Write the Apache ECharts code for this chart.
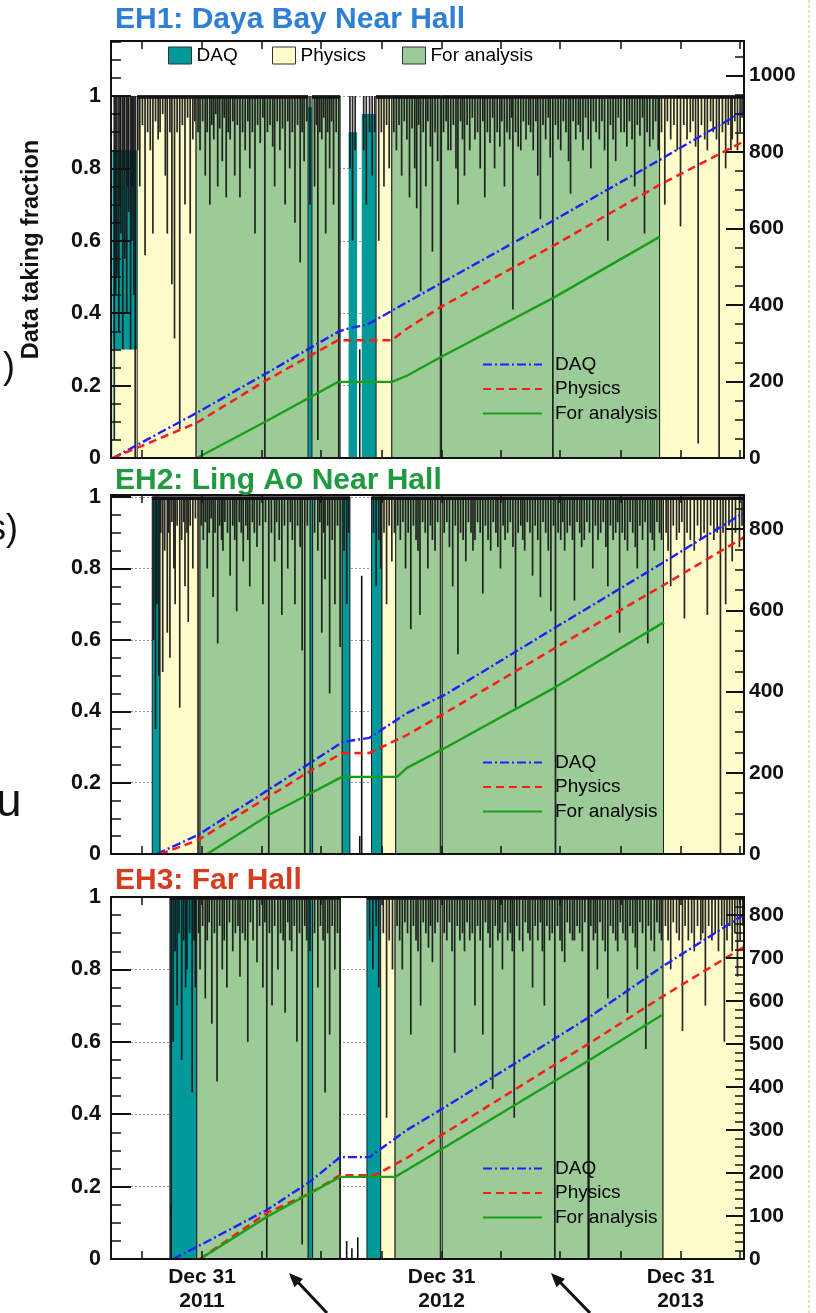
<!DOCTYPE html>
<html><head><meta charset="utf-8">
<script src="https://cdn.jsdelivr.net/npm/echarts@6/dist/echarts.min.js"></script>
<style>html,body{margin:0;padding:0;background:#fff}#c{width:816px;height:1313px}</style>
</head><body><div id="c"></div><script>
// x values: days relative to 2011-12-31
const quarterTicks = [-92, 0, 91, 182, 274, 366, 456, 547, 639, 731, 821];
const yearTickDays = [0, 366, 731];
const yearTickLabels = ['Dec 31\n2011', 'Dec 31\n2012', 'Dec 31\n2013'];
const panelTitles = ['EH1: Daya Bay Near Hall', 'EH2: Ling Ao Near Hall', 'EH3: Far Hall'];
const legendNames = ['DAQ', 'Physics', 'For analysis'];

// fill blocks: [startDay, endDay, fraction]
const eh1DaqBlocks = [[-137,-99,0.85],[162,168,0.97],[224,237,0.9],[244,266,0.95]];
const eh1PhysBlocks = [[-137,-99,0.3],[-99,-9,1],[266,290,1],[364,366,1],[699,828,1]];
const eh1AnaBlocks = [[-9,162,1],[168,211,1],[290,364,1],[366,699,1]];
const eh2DaqBlocks = [[-76,-64,1],[165,169,1],[214,226,1],[259,275,1]];
const eh2PhysBlocks = [[-64,-3,1],[275,296,1],[364,367,1],[705,828,1]];
const eh2AnaBlocks = [[-3,165,1],[169,214,1],[296,364,1],[367,705,1]];
const eh3DaqBlocks = [[-49,-8,1],[162,169,1],[252,273,1]];
const eh3PhysBlocks = [[273,295,1],[364,367,1],[704,828,1]];
const eh3AnaBlocks = [[-8,162,1],[169,211,1],[295,364,1],[367,704,1]];

// daily fraction dips: [day, fraction]
const eh1Dips = [[-134,0.05],[-132,0.45],[-130,0.5],[-127,0.35],[-125,0.7],[-124,0.62],[-121,0.3],[-119,0.8],[-118,0.55],[-115,0.4],[-113,0.75],[-112,0.68],[-109,0.3],[-107,0.6],[-106,0.75],[-104,0.45],[-102,0],[-98,0.85],[-95,0.75],[-91,0.92],[-87,0.56],[-83,0.9],[-79,0.85],[-75,0.62],[-71,0.93],[-67,0.88],[-64,0.9],[-60,0.95],[-56,0.78],[-53,0.62],[-49,0.9],[-46,0.48],[-42,0.33],[-38,0.9],[-34,0.08],[-30,0.92],[-26,0.7],[-22,0.94],[-18,0.62],[-14,0.88],[-11,0.93],
[-6,0.9],[-3,0.85],[1,0.93],[5,0.78],[8,0.9],[12,0.7],[15,0.92],[18,0.88],[21,0.95],[24,0.75],[27,0.91],[31,0.82],[34,0.94],[37,0.72],[40,0.9],[43,0.88],[47,0.93],[50,0.78],[54,0.92],[58,0.72],[62,0.9],[66,0.85],[70,0.93],[73,0.8],[77,0.9],[81,0.62],[85,0.92],[89,0.87],[93,0.94],[96,0],[100,0.9],[104,0.92],[108,0.86],[111,0.75],[115,0.93],[119,0.85],[123,0.91],[127,0.7],[131,0.93],[134,0.8],[138,0.9],[142,0.65],[146,0.92],[150,0.54],[153,0.9],[156,0.82],[160,0.93],[165,0.7],[172,0.75],[175,0.92],[177,0.05],[180,0.9],[183,0.88],[186,0.94],[189,0.62],[192,0.9],[195,0.8],[198,0.93],[201,0.7],[205,0.9],[209,0],
[226,0.8],[230,0.6],[234,0.85],[247,0.85],[251,0.7],[256,0.9],[260,0.78],[264,0.9],[270,0.6],[274,0.9],[278,0.75],[282,0.92],[286,0.8],
[293,0.9],[297,0.85],[301,0.92],[305,0.78],[309,0.93],[313,0.88],[317,0.72],[321,0.91],[325,0.8],[328,0.69],[331,0.92],[334,0.46],[338,0.9],[342,0.75],[345,0.93],[349,0.86],[352,0.57],[356,0.9],[360,0.82],
[369,0.9],[373,0.93],[376,0.85],[380,0.85],[384,0.92],[388,0.8],[391,0.7],[395,0.93],[398,0.88],[401,0.78],[405,0.92],[409,0.85],[413,0.94],[417,0.88],[421,0.9],[425,0.8],[429,0.93],[432,0.72],[436,0.9],[440,0.87],[444,0.94],[447,0.8],[451,0.9],[455,0.86],[458,0.93],[462,0.75],[466,0.9],[470,0.88],[473,0.94],[475,0.41],[479,0.9],[483,0.86],[487,0.85],[491,0.93],[495,0.88],[499,0.92],[502,0.9],[506,0.85],[510,0.93],[513,0.78],[517,0.66],[521,0.92],[525,0.88],[529,0.94],[532,0.83],[536,0],[540,0.92],[544,0.88],[548,0.85],[552,0.93],[556,0.9],[560,0.82],[563,0.73],[567,0.93],[571,0.88],[575,0.92],[578,0.9],[582,0.85],[586,0.94],[590,0.88],[594,0.8],[598,0.93],[602,0.9],[607,0.88],[611,0.93],[615,0.85],[620,0.6],[624,0.92],[628,0.88],[632,0.82],[636,0.94],[640,0.9],[645,0.9],[649,0.86],[653,0.93],[657,0.88],[661,0.75],[665,0.92],[669,0.89],[673,0.94],[676,0.62],[680,0.9],[684,0.86],[689,0.88],[693,0.93],[697,0.85],
[702,0.9],[707,0.7],[711,0.93],[716,0.88],[721,0.92],[726,0.85],[731,0.64],[736,0.92],[741,0.88],[746,0.9],[750,0.93],[754,0.86],[758,0.04],[763,0.92],[768,0.88],[772,0.85],[777,0.93],[781,0.9],[786,0.88],[790,0],[795,0.9],[800,0.8],[804,0.92],[808,0.85],[810,0.88],[814,0.93],[818,0.85],[822,0.9],[825,0.94]];
const eh2Dips = [[-74,0.6],[-71,0.35],[-69,0.7],[-66,0.5],[-63,0.9],[-60,0.51],[-57,0.85],[-53,0.62],[-51,0.9],[-49,0.55],[-46,0.93],[-43,0.8],[-41,0.7],[-38,0.92],[-34,0.41],[-31,0.88],[-28,0.93],[-26,0.75],[-23,0.9],[-21,0.65],[-18,0.92],[-14,0.8],[-10,0.94],[-6,0],
[-1,0.92],[2,0.88],[5,0.93],[8,0.8],[11,0.9],[14,0.94],[17,0.72],[20,0.9],[24,0.59],[27,0.92],[30,0.88],[32,0.85],[35,0.93],[39,0.9],[43,0.78],[47,0.92],[50,0.88],[53,0.68],[57,0.93],[60,0.9],[63,0.82],[67,0.92],[70,0.88],[73,0.75],[77,0.93],[80,0.9],[84,0.86],[88,0.92],[93,0.7],[97,0.93],[102,0],[106,0.9],[111,0.82],[114,0.93],[118,0.88],[122,0.67],[126,0.92],[131,0.8],[135,0.93],[138,0.88],[142,0.7],[146,0.92],[150,0.86],[153,0.57],[157,0],[161,0.92],
[172,0.9],[177,0.85],[180,0.93],[183,0.62],[186,0.9],[188,0.77],[192,0.92],[195,0.45],[199,0.88],[203,0.7],[207,0.92],[211,0.58],[217,0.85],[221,0.7],[224,0.9],
[262,0.9],[266,0.75],[270,0.88],[273,0.8],[278,0.9],[282,0.7],[286,0.92],[290,0.82],[294,0.9],
[299,0.92],[303,0.88],[307,0.93],[311,0.8],[315,0.9],[319,0.63],[323,0.92],[327,0.88],[330,0.85],[333,0.67],[337,0.93],[341,0.9],[345,0.8],[349,0.92],[352,0.88],[356,0.85],[360,0.93],
[370,0.9],[374,0.93],[378,0.86],[383,0.75],[387,0.92],[391,0.56],[395,0.9],[399,0.88],[403,0.82],[407,0.93],[411,0.9],[414,0.85],[417,0.88],[421,0.93],[425,0.9],[429,0.73],[433,0.92],[437,0.88],[441,0.85],[445,0.93],[449,0.9],[452,0.86],[456,0.8],[460,0.92],[463,0.88],[467,0.9],[471,0.93],[475,0.86],[479,0.41],[483,0.9],[487,0.92],[490,0.88],[493,0.85],[497,0.93],[501,0.9],[505,0.78],[509,0.92],[513,0.88],[517,0.72],[521,0.93],[525,0.9],[529,0.85],[533,0.68],[537,0.92],[540,0],[544,0.9],[548,0.88],[551,0.93],[554,0.85],[558,0.9],[562,0.92],[566,0.88],[569,0.71],[573,0.93],[577,0.9],[580,0.86],[584,0.88],[588,0.93],[592,0.9],[597,0.8],[601,0.92],[605,0.88],[609,0.9],[613,0.93],[617,0.86],[620,0.75],[624,0.92],[628,0.88],[632,0.9],[635,0.93],[638,0.62],[642,0.9],[646,0.88],[650,0.85],[654,0.93],[658,0.9],[662,0.86],[665,0.8],[669,0.92],[673,0.88],[677,0.93],[681,0.59],[685,0.9],[688,0.88],[691,0.85],[695,0.93],[699,0.9],[702,0.88],
[709,0.9],[712,0.85],[716,0.75],[720,0.92],[725,0.88],[729,0.9],[733,0.93],[737,0.66],[741,0.9],[746,0.88],[752,0.85],[757,0.92],[762,0.88],[767,0.9],[772,0.67],[777,0.92],[782,0.88],[787,0.9],[792,0],[796,0.9],[800,0.7],[805,0.92],[810,0.82],[815,0.9],[821,0.86],[825,0.92]];
const eh3Dips = [[-47,0.12],[-44,0.6],[-41,0.85],[-38,0.7],[-35,0.9],[-31,0.55],[-28,0.88],[-25,0.75],[-23,0.8],[-19,0.9],[-15,0.46],[-12,0.88],[-10,0.75],
[-5,0.9],[-3,0.8],[1,0.92],[5,0.72],[8,0.88],[11,0.93],[15,0.65],[19,0.9],[23,0.49],[27,0.92],[31,0.8],[34,0.88],[38,0.75],[42,0.93],[47,0.85],[51,0.9],[55,0.92],[58,0.78],[62,0.9],[66,0.88],[70,0.6],[74,0.93],[78,0.88],[84,0.82],[88,0.92],[93,0.75],[96,0.93],[99,0],[103,0.9],[107,0.7],[111,0.92],[116,0.8],[120,0.9],[124,0.88],[127,0.68],[131,0.93],[134,0.88],[137,0.85],[141,0.92],[145,0.6],[149,0.9],[153,0.04],[157,0.92],[160,0.88],[165,0.85],
[172,0.9],[177,0.75],[181,0.92],[185,0.88],[188,0.46],[192,0.9],[195,0.62],[199,0.92],[203,0.8],[207,0.9],[211,0],
[256,0.88],[261,0.8],[266,0.92],[270,0.75],[277,0.9],[282,0.39],[286,0.88],[291,0.8],
[298,0.92],[302,0.88],[306,0.8],[310,0.93],[314,0.9],[319,0.62],[323,0.92],[327,0.88],[330,0.85],[334,0.7],[338,0.93],[342,0.9],[346,0.86],[349,0.92],[352,0.82],[356,0.9],[360,0.93],
[370,0.9],[374,0.88],[378,0.93],[382,0.85],[386,0.57],[390,0.92],[394,0.88],[398,0.9],[401,0.85],[405,0.93],[409,0.88],[413,0.9],[417,0.7],[421,0.92],[425,0.88],[429,0.62],[433,0.93],[437,0.9],[440,0.86],[444,0.47],[448,0.92],[452,0.88],[455,0.9],[459,0.8],[463,0.93],[467,0.88],[471,0.9],[474,0.85],[477,0.39],[481,0.92],[485,0.88],[490,0.85],[494,0.93],[498,0.9],[501,0.88],[505,0.75],[509,0.92],[513,0.88],[517,0.93],[520,0.85],[523,0.7],[527,0.92],[531,0.88],[535,0.9],[539,0],[543,0.92],[547,0.88],[550,0.85],[554,0.82],[558,0.93],[562,0.9],[566,0.88],[569,0.88],[573,0.92],[577,0.9],[581,0.85],[585,0.93],[590,0],[591,0],[594,0.92],[598,0.88],[601,0.9],[604,0.8],[608,0.93],[612,0.88],[616,0.85],[620,0.72],[624,0.92],[628,0.9],[632,0.88],[635,0.85],[639,0.93],[643,0.9],[647,0.88],[650,0.68],[654,0.92],[658,0.9],[662,0.86],[665,0.8],[669,0.93],[673,0.9],[678,0.58],[682,0.92],[686,0.88],[691,0.85],[695,0.93],[699,0.9],[702,0.88],
[708,0.92],[712,0.88],[716,0.8],[720,0.93],[725,0.9],[729,0.88],[734,0.63],[738,0.92],[743,0.88],[748,0.9],[752,0.85],[757,0.92],[762,0.88],[765,0.9],[769,0.7],[774,0.92],[779,0.88],[784,0.9],[789,0.85],[794,0.92],[798,0.6],[802,0.88],[806,0.92],[810,0.85],[814,0.9],[818,0.78],[822,0.88],[826,0.92]];

// isolated low daily fractions (bars rising from 0): [day, fraction]
const eh1LowBars = [[241,0.3]];
const eh2LowBars = [[241,0.05],[244,0.78]];
const eh3LowBars = [[-47,0.15],[221,0.05],[229,0.03],[238,0.06]];

// cumulative days (right axis): [day, days]
const eh1CumDaq = [[-136,0],[-8,118],[99,222],[208,330],[226,340],[252,348],[314,408],[365,457],[533,617],[699,779],[826,905]];
const eh1CumPhys = [[-136,0],[-8,92],[99,204],[208,308],[290,308],[313,338],[365,395],[539,557],[699,714],[826,826]];
const eh1CumAna = [[-8,0],[96,94],[208,199],[290,199],[313,215],[365,264],[536,418],[699,578]];
const eh2CumDaq = [[-69,0],[-6,47],[168,227],[215,276],[256,286],[313,347],[371,392],[539,557],[706,719],[829,842]];
const eh2CumPhys = [[-64,0],[-6,34],[168,207],[215,249],[256,249],[313,293],[371,347],[539,507],[706,663],[829,781]];
const eh2CumAna = [[8,0],[102,96],[214,190],[298,190],[313,212],[371,261],[540,411],[706,571]];
const eh3CumDaq = [[-44,0],[-8,28],[99,114],[165,180],[211,237],[256,237],[313,300],[371,353],[592,563],[702,679],[827,800]];
const eh3CumPhys = [[-3,0],[99,107],[165,153],[211,195],[264,195],[313,235],[371,293],[592,502],[702,609],[827,725]];
const eh3CumAna = [[-3,0],[99,98],[165,153],[211,191],[295,191],[313,207],[371,260],[592,463],[702,567]];

const FONT = '"Liberation Sans", Arial, Helvetica, sans-serif';
const C_TEAL = '#009a9a', C_YEL = '#fffccc', C_GRN = '#9ccb98';
const panels = [
  {top:41, height:417, yMax:1.152, rMax:1090, rInt:200, rMinor:4, color:'#2f7fd6',
   daq:eh1DaqBlocks, phys:eh1PhysBlocks, ana:eh1AnaBlocks, dips:eh1Dips, low:eh1LowBars,
   cDaq:eh1CumDaq, cPhys:eh1CumPhys, cAna:eh1CumAna, legTop:355},
  {top:495, height:359, yMax:1.006, rMax:884, rInt:200, rMinor:4, color:'#1f9a3e',
   daq:eh2DaqBlocks, phys:eh2PhysBlocks, ana:eh2AnaBlocks, dips:eh2Dips, low:eh2LowBars,
   cDaq:eh2CumDaq, cPhys:eh2CumPhys, cAna:eh2CumAna, legTop:753},
  {top:897, height:362, yMax:1.0, rMax:842, rInt:100, rMinor:5, color:'#d63c1e',
   daq:eh3DaqBlocks, phys:eh3PhysBlocks, ana:eh3AnaBlocks, dips:eh3Dips, low:eh3LowBars,
   cDaq:eh3CumDaq, cPhys:eh3CumPhys, cAna:eh3CumAna, legTop:1159}
];
const titleTops = [5, 466, 866];

function renderBlock(params, api) {
  const top = api.value(2);
  const s = api.coord([api.value(0), top]);
  const e = api.coord([api.value(1), 0]);
  const x = s[0], y = s[1], w = e[0] - s[0], h = e[1] - s[1];
  const kids = [{type:'rect', shape:{x, y, width:w, height:h},
    style:{fill:api.visual('color'), stroke:'#1c1c1c', lineWidth:top >= 0.99 ? 1 : 0}}];
  if (top >= 0.99) kids.push({type:'line', shape:{x1:x, y1:y + 1, x2:x + w, y2:y + 1}, style:{stroke:'#111', lineWidth:3.5}});
  return {type:'group', children:kids};
}
function renderDip(params, api) {
  const a = api.coord([api.value(0), 1]);
  const b = api.coord([api.value(0), api.value(1)]);
  return {type:'line', shape:{x1:a[0], y1:a[1], x2:b[0], y2:b[1]}, style:{stroke:'#151515', lineWidth:1.7, opacity:0.92}};
}
function renderLow(params, api) {
  const a = api.coord([api.value(0), 0]);
  const b = api.coord([api.value(0), api.value(1)]);
  return {type:'line', shape:{x1:a[0], y1:a[1], x2:b[0], y2:b[1]}, style:{stroke:'#111', lineWidth:1.6}};
}

const grids = [], xAxes = [], yAxes = [], series = [], legends = [], graphics = [];
const lineStyles = {
  'DAQ': {color:'#1f1fff', width:2.4, type:[9,3,2,3]},
  'Physics': {color:'#ff1a1a', width:2.5, type:[8,5]},
  'For analysis': {color:'#18a018', width:2.4, type:'solid'}
};
const axLine = {show:true, onZero:false, lineStyle:{color:'#111', width:2}};
panels.forEach((p, i) => {
  grids.push({left:111, width:633, top:p.top, height:p.height, show:false});
  const tickCommon = {show:true, inside:true, length:8, customValues:quarterTicks, lineStyle:{color:'#111', width:1.5}};
  xAxes.push({type:'value', gridIndex:i, position:'bottom', min:-139, max:828, z:10,
    axisLine:axLine, axisTick:tickCommon, splitLine:{show:false},
    axisLabel:{show:i === 2, customValues:yearTickDays, margin:6,
      formatter:v => yearTickLabels[yearTickDays.indexOf(Math.round(v))] || '',
      fontFamily:FONT, fontWeight:'bold', fontSize:21, lineHeight:24, color:'#111'}});
  xAxes.push({type:'value', gridIndex:i, position:'top', min:-139, max:828, z:10,
    axisLine:axLine, axisTick:tickCommon, axisLabel:{show:false}, splitLine:{show:false}});
  yAxes.push({type:'value', gridIndex:i, position:'left', min:0, max:p.yMax, interval:0.2, z:10,
    name: i === 0 ? 'Data taking fraction' : '', nameLocation:'middle', nameGap:67, nameRotate:90,
    nameTextStyle:{fontFamily:FONT, fontWeight:'bold', fontSize:23.5, color:'#111'},
    axisLine:axLine,
    axisTick:{show:true, inside:true, length:20, lineStyle:{color:'#111', width:2}},
    minorTick:{show:true, splitNumber:4, length:10, lineStyle:{color:'#111', width:1.5}},
    splitLine:{show:false},
    axisLabel:{margin:10, showMaxLabel: i === 2, fontFamily:FONT, fontWeight:'bold', fontSize:21.5, color:'#111',
      formatter:v => (v === 0 ? '0' : (Math.abs(v - 1) < 1e-6 ? '1' : v.toFixed(1)))}});
  yAxes.push({type:'value', gridIndex:i, position:'right', min:0, max:p.rMax, interval:p.rInt, z:10,
    axisLine:axLine,
    axisTick:{show:true, inside:true, length:18, lineStyle:{color:'#111', width:2}},
    minorTick:{show:true, splitNumber:p.rMinor, length:9, lineStyle:{color:'#111', width:1.5}},
    splitLine:{show:false},
    axisLabel:{margin:5, showMaxLabel:false, fontFamily:FONT, fontWeight:'bold', fontSize:21, color:'#111',
      formatter:v => String(Math.round(v))}});
  yAxes.push({type:'value', gridIndex:i, position:'left', min:0, max:p.yMax, interval:0.2, z:0,
    axisLine:{show:false, onZero:false}, axisTick:{show:false}, axisLabel:{show:false},
    splitLine:{show:true, lineStyle:{color:'#999', width:1, type:[2,2]}}});

  const xi = 2 * i, yl = 3 * i, yr = 3 * i + 1;
  const blk = (name, color, data) => ({type:'custom', name, xAxisIndex:xi, yAxisIndex:yl, data,
    renderItem:renderBlock, itemStyle:{color}, encode:{x:[0,1], y:2}, z:1, clip:true, silent:true});
  series.push(blk('DAQ fill', C_TEAL, p.daq));
  series.push(blk('Physics fill', C_YEL, p.phys));
  series.push(blk('For analysis fill', C_GRN, p.ana));
  series.push({type:'custom', name:'dips' + i, xAxisIndex:xi, yAxisIndex:yl, data:p.dips,
    renderItem:renderDip, encode:{x:0, y:1}, z:2, clip:true, silent:true});
  series.push({type:'custom', name:'low' + i, xAxisIndex:xi, yAxisIndex:yl, data:p.low,
    renderItem:renderLow, encode:{x:0, y:1}, z:2, clip:true, silent:true});
  [['DAQ', p.cDaq], ['Physics', p.cPhys], ['For analysis', p.cAna]].forEach(([n, d]) => {
    series.push({type:'line', name:n, xAxisIndex:xi, yAxisIndex:yr, data:d, symbol:'none',
      lineStyle:lineStyles[n], itemStyle:{color:lineStyles[n].color}, z:5, clip:true, silent:true});
  });
  legends.push({orient:'vertical', left:482, top:p.legTop, padding:0, itemWidth:59, itemHeight:14, itemGap:5.5,
    data:legendNames, selectedMode:false, z:20, itemStyle:{opacity:0},
    textStyle:{fontFamily:FONT, fontSize:19, color:'#000', padding:[0,0,0,8]}});
  graphics.push({type:'text', left:115, top:titleTops[i], z:30,
    style:{text:panelTitles[i], font:'bold 30px ' + FONT, fill:p.color}});
});

// fill legend (top of EH1)
const fillLegend = [['DAQ fill', C_TEAL, 168, 'DAQ'], ['Physics fill', C_YEL, 272, 'Physics'], ['For analysis fill', C_GRN, 402, 'For analysis']];
fillLegend.forEach(([n, c, left, label]) => {
  legends.push({left, top:46, padding:0, itemWidth:23, itemHeight:17, selectedMode:false, z:20,
    data:[{name:n, icon:'rect', itemStyle:{color:c, borderColor:'#333', borderWidth:1}}],
    formatter:() => label,
    textStyle:{fontFamily:FONT, fontSize:19, color:'#000', padding:[0,0,0,0]}});
});

// cropped neighbouring material
graphics.push({type:'text', left:3, top:350, style:{text:')', font:'36px ' + FONT, fill:'#111'}});
graphics.push({type:'text', left:-12, top:512, style:{text:'s)', font:'36px ' + FONT, fill:'#111'}});
graphics.push({type:'text', left:-4, top:780, style:{text:'u', font:'46px ' + FONT, fill:'#111'}});
graphics.push({type:'line', shape:{x1:809, y1:0, x2:809, y2:1313}, style:{stroke:'#e6c88c', lineWidth:1.2, lineDash:[3,2]}});
[[327, 289], [590, 551]].forEach(([tx, hx]) => {
  graphics.push({type:'line', shape:{x1:tx, y1:1313, x2:hx + 6, y2:1279}, style:{stroke:'#111', lineWidth:3}});
  graphics.push({type:'polygon', shape:{points:[[hx, 1273], [hx + 14, 1279], [hx + 5.4, 1287.2]]}, style:{fill:'#111'}});
});

const chart = echarts.init(document.getElementById('c'), null, {renderer:'canvas'});
chart.setOption({
  animation:false, backgroundColor:'#fff',
  grid:grids, xAxis:xAxes, yAxis:yAxes, series, legend:legends, graphic:graphics
});
</script></body></html>
